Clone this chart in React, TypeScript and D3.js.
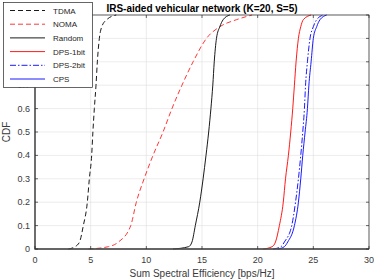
import { useEffect, useRef } from "react";
import * as d3 from "d3";

// CDF levels shared by every series, and the efficiency read at each level
const cdfLevels = [0, 0.01, 0.03, 0.1, 0.2, 0.3, 0.4, 0.5, 0.6, 0.7, 0.8, 0.9, 0.95, 0.98, 1];
const tdma = [3.0, 3.6, 4.0, 4.34, 4.7, 4.88, 5.09, 5.2, 5.33, 5.48, 5.6, 5.78, 6.0, 6.44, 7.3];
const noma = [4.8, 6.6, 7.5, 8.6, 9.1, 9.8, 10.6, 11.5, 12.3, 13.2, 14.2, 15.4, 16.6, 18.1, 19.5];
const random = [12.4, 13.8, 14.1, 14.4, 14.8, 15.1, 15.36, 15.6, 15.8, 15.97, 16.1, 16.3, 16.6, 16.9, 17.5];
const dps1 = [20.5, 21.3, 21.6, 21.95, 22.3, 22.5, 22.76, 22.97, 23.15, 23.3, 23.45, 23.66, 23.87, 24.1, 24.8];
const dps2 = [21.4, 22.1, 22.4, 23.06, 23.4, 23.66, 23.87, 24.05, 24.2, 24.3, 24.47, 24.7, 25.0, 25.3, 25.9];
const cps = [21.8, 22.4, 22.7, 23.3, 23.66, 23.87, 24.05, 24.26, 24.47, 24.6, 24.8, 25.0, 25.3, 25.6, 26.2];

const seriesNames = ["TDMA", "NOMA", "Random", "DPS-1bit", "DPS-2bit", "CPS"];
const xTicks = [0, 5, 10, 15, 20, 25, 30];
const yTicks = [0, 0.1, 0.2, 0.3, 0.4, 0.5, 0.6, 0.7, 0.8, 0.9, 1];

const styles = [
  { color: "#000000", dash: "5,3" },
  { color: "#ff2020", dash: "5,3" },
  { color: "#000000", dash: null },
  { color: "#ff0000", dash: null },
  { color: "#0000ff", dash: "6,2,1.5,2" },
  { color: "#0000ff", dash: null },
];

export default function App() {
  const svgRef = useRef<SVGSVGElement>(null);

  useEffect(() => {
    if (!svgRef.current) return;
    const svg = d3.select(svgRef.current);
    svg.selectAll("*").remove();

    const left = 35, right = 369, top = 15, bottom = 249;
    const x = d3.scaleLinear().domain([0, 30]).range([left, right]);
    const y = d3.scaleLinear().domain([0, 1]).range([bottom, top]);
    const font = "'Liberation Sans', Arial, sans-serif";
    const axisColor = "#262626";
    const textColor = "#3a3a3a";

    svg.append("rect").attr("x", left).attr("y", top)
      .attr("width", right - left).attr("height", bottom - top).attr("fill", "#fff");

    // grid
    const grid = svg.append("g").attr("stroke", "#dfdfdf").attr("stroke-width", 0.6);
    xTicks.forEach((t) => grid.append("line").attr("x1", x(t)).attr("x2", x(t)).attr("y1", top).attr("y2", bottom));
    yTicks.forEach((t) => grid.append("line").attr("x1", left).attr("x2", right).attr("y1", y(t)).attr("y2", y(t)));

    // curves
    const allSeries = [tdma, noma, random, dps1, dps2, cps];
    const line = d3.line<[number, number]>()
      .x((d) => x(d[0])).y((d) => y(d[1]))
      .curve(d3.curveMonotoneX);
    allSeries.forEach((vals, i) => {
      const pts: [number, number][] = vals.map((v, k) => [v, cdfLevels[k]]);
      svg.append("path").attr("d", line(pts))
        .attr("fill", "none").attr("stroke", styles[i].color)
        .attr("stroke-width", 0.9)
        .attr("stroke-dasharray", styles[i].dash);
    });

    // box and ticks
    svg.append("rect").attr("x", left).attr("y", top)
      .attr("width", right - left).attr("height", bottom - top)
      .attr("fill", "none").attr("stroke", axisColor).attr("stroke-width", 0.7);
    svg.append("path").attr("d", `M${left},${top}V${bottom}H${right}`)
      .attr("fill", "none").attr("stroke", "#4d4d4d").attr("stroke-width", 1.3);
    const ticks = svg.append("g").attr("stroke", axisColor).attr("stroke-width", 0.7);
    xTicks.forEach((t) => {
      ticks.append("line").attr("x1", x(t)).attr("x2", x(t)).attr("y1", bottom).attr("y2", bottom - 3);
      ticks.append("line").attr("x1", x(t)).attr("x2", x(t)).attr("y1", top).attr("y2", top + 3);
    });
    yTicks.forEach((t) => {
      ticks.append("line").attr("x1", left).attr("x2", left + 3).attr("y1", y(t)).attr("y2", y(t));
      ticks.append("line").attr("x1", right).attr("x2", right - 3).attr("y1", y(t)).attr("y2", y(t));
    });

    // tick labels
    xTicks.forEach((t) => {
      svg.append("text").attr("x", x(t)).attr("y", bottom + 14)
        .attr("text-anchor", "middle").attr("font-family", font).attr("font-size", 9)
        .attr("fill", textColor).text(String(t));
    });
    yTicks.forEach((t) => {
      svg.append("text").attr("x", left - 5).attr("y", y(t) + 3)
        .attr("text-anchor", "end").attr("font-family", font).attr("font-size", 9)
        .attr("fill", textColor).text(t === 0 || t === 1 ? String(t) : t.toFixed(1));
    });

    // axis labels and title
    svg.append("text").attr("x", (left + right) / 2).attr("y", 277)
      .attr("text-anchor", "middle").attr("font-family", font).attr("font-size", 10)
      .attr("fill", textColor).text("Sum Spectral Efficiency [bps/Hz]");
    svg.append("text").attr("transform", `translate(10,${(top + bottom) / 2}) rotate(-90)`)
      .attr("text-anchor", "middle").attr("font-family", font).attr("font-size", 10)
      .attr("fill", textColor).text("CDF");
    svg.append("text").attr("x", (left + right) / 2).attr("y", 12)
      .attr("text-anchor", "middle").attr("font-family", font).attr("font-size", 10)
      .attr("font-weight", "bold").attr("fill", "#000").text("IRS-aided vehicular network (K=20, S=5)");

    // legend
    const lg = svg.append("g");
    lg.append("rect").attr("x", 3.5).attr("y", 2.5).attr("width", 89).attr("height", 85)
      .attr("fill", "#fff").attr("stroke", axisColor).attr("stroke-width", 0.7);
    seriesNames.forEach((name, i) => {
      const ly = 10.5 + i * 13.7;
      lg.append("line").attr("x1", 10).attr("x2", 45).attr("y1", ly).attr("y2", ly)
        .attr("stroke", styles[i].color).attr("stroke-width", 0.9)
        .attr("stroke-dasharray", styles[i].dash);
      lg.append("text").attr("x", 53).attr("y", ly + 3).attr("font-family", font)
        .attr("font-size", 8).attr("fill", axisColor).text(name);
    });
  }, []);

  return (
    <svg ref={svgRef} width={374} height={280}
      style={{ position: "absolute", left: 0, top: 0, background: "#fff" }} />
  );
}
